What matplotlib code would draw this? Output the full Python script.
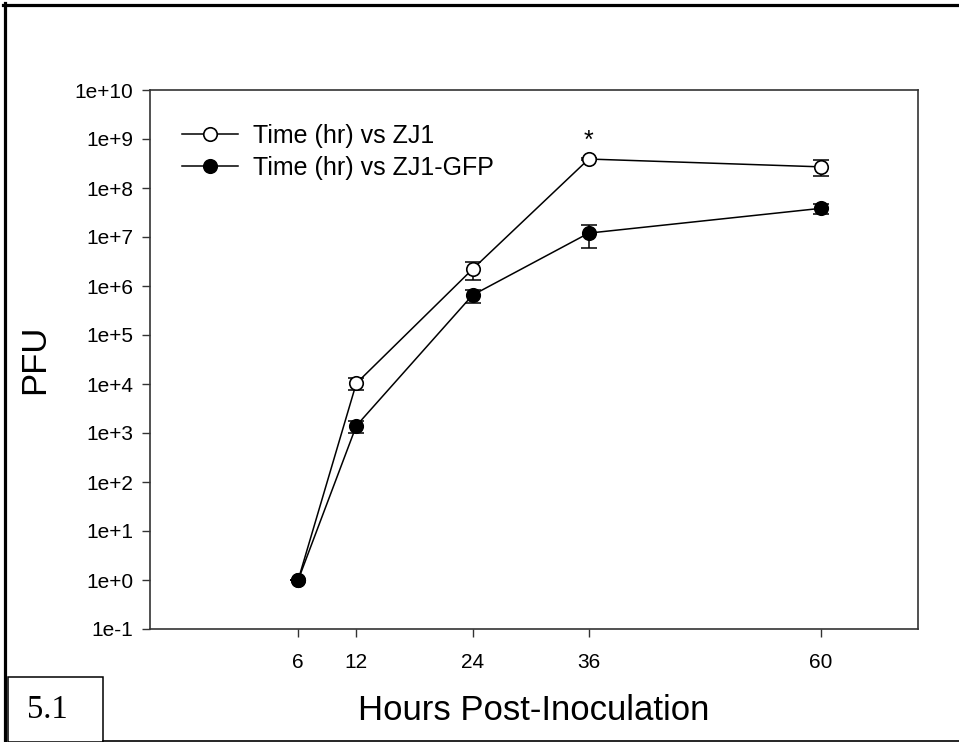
import matplotlib
matplotlib.use('Agg')
import matplotlib.pyplot as plt
from matplotlib.lines import Line2D
from matplotlib.patches import Rectangle

plt.rcParams['font.family'] = ['Liberation Sans', 'DejaVu Sans']

# --- data ---
hours = [6, 12, 24, 36, 60]
zj1 = [1.0, 1.03e4, 2.2e6, 3.9e8, 2.7e8]
zj1_err = [0.0, 2.8e3, 0.9e6, 1.0e7, 9.5e7]
gfp = [1.0, 1.4e3, 6.5e5, 1.2e7, 3.85e7]
gfp_err = [0.0, 3.8e2, 1.9e5, 5.9e6, 9.0e6]

y_ticks = [10.0 ** k for k in range(-1, 11)]
y_labels = ['1e-1'] + ['1e+%d' % k for k in range(0, 11)]
x_ticks = [6, 12, 24, 36, 60]

W, H = 959, 742
fig = plt.figure(figsize=(W / 100, H / 100), dpi=100)

def px(x0, y0, x1, y1):
    # pixel box -> figure fraction rect
    return [x0 / W, 1 - y1 / H, (x1 - x0) / W, (y1 - y0) / H]

ax = fig.add_axes(px(150, 90, 918, 629))
ax.set_yscale('log')
ax.set_ylim(0.1, 1e10)
ax.set_xlim(-9.3, 70)

lw = 1.1
ms = 9.7
# error bars first, markers on top
ax.errorbar(hours, zj1, yerr=zj1_err, fmt='none', ecolor='black', elinewidth=lw,
            capsize=5.5, capthick=lw, zorder=2)
ax.errorbar(hours, gfp, yerr=gfp_err, fmt='none', ecolor='black', elinewidth=lw,
            capsize=5.5, capthick=lw, zorder=2)
ax.plot(hours, zj1, '-o', color='black', lw=lw, ms=ms, mfc='white', mec='black',
        mew=1.2, label='Time (hr) vs ZJ1', zorder=3)
ax.plot(hours, gfp, '-o', color='black', lw=lw, ms=ms, mfc='black', mec='black',
        mew=1.2, label='Time (hr) vs ZJ1-GFP', zorder=4)

# significance star above 36 h
ax.annotate('*', (36, zj1[3]), xytext=(0, 8), textcoords='offset points',
            ha='center', va='baseline', fontsize=18)

ax.set_yticks(y_ticks)
ax.set_yticklabels(y_labels)
ax.minorticks_off()
ax.set_xticks(x_ticks)
ax.set_xticklabels([str(t) for t in x_ticks])
ax.tick_params(axis='both', direction='out', length=6, width=1.0, labelsize=15,
               color='#333333')
ax.tick_params(axis='y', pad=6)
ax.tick_params(axis='x', pad=11)
for sp in ax.spines.values():
    sp.set_linewidth(1.2)
    sp.set_color('#333333')

ax.legend(loc='upper left', bbox_to_anchor=(182 / W, 1 - 124 / H),
          bbox_transform=fig.transFigure, frameon=False, fontsize=18,
          handlelength=2.25, handletextpad=0.6, labelspacing=0.3,
          borderpad=0, borderaxespad=0)

fig.text(534 / W, 1 - 720 / H, 'Hours Post-Inoculation', ha='center',
         va='baseline', fontsize=25)
fig.text(35 / W, 1 - 359 / H, 'PFU', ha='center', va='center', rotation=90,
         fontsize=25)

# page frame around the figure
fig.add_artist(Line2D([3 / W, 1], [1 - 4.5 / H, 1 - 4.5 / H],
                      transform=fig.transFigure, color='black', lw=2.3))
fig.add_artist(Line2D([4.5 / W, 4.5 / W], [0, 1 - 3 / H],
                      transform=fig.transFigure, color='black', lw=2.3))
fig.add_artist(Line2D([103 / W, 1], [1 - 740.5 / H, 1 - 740.5 / H],
                      transform=fig.transFigure, color='black', lw=1.2))
fig.add_artist(Rectangle((8 / W, 0), 95 / W, (742 - 677) / H,
                         transform=fig.transFigure, fill=False,
                         edgecolor='black', lw=1.1))
fig.text(47 / W, 1 - 718 / H, '5.1', ha='center', va='baseline', fontsize=23.5,
         family='Liberation Serif')

fig.savefig('out.png', dpi=100)
